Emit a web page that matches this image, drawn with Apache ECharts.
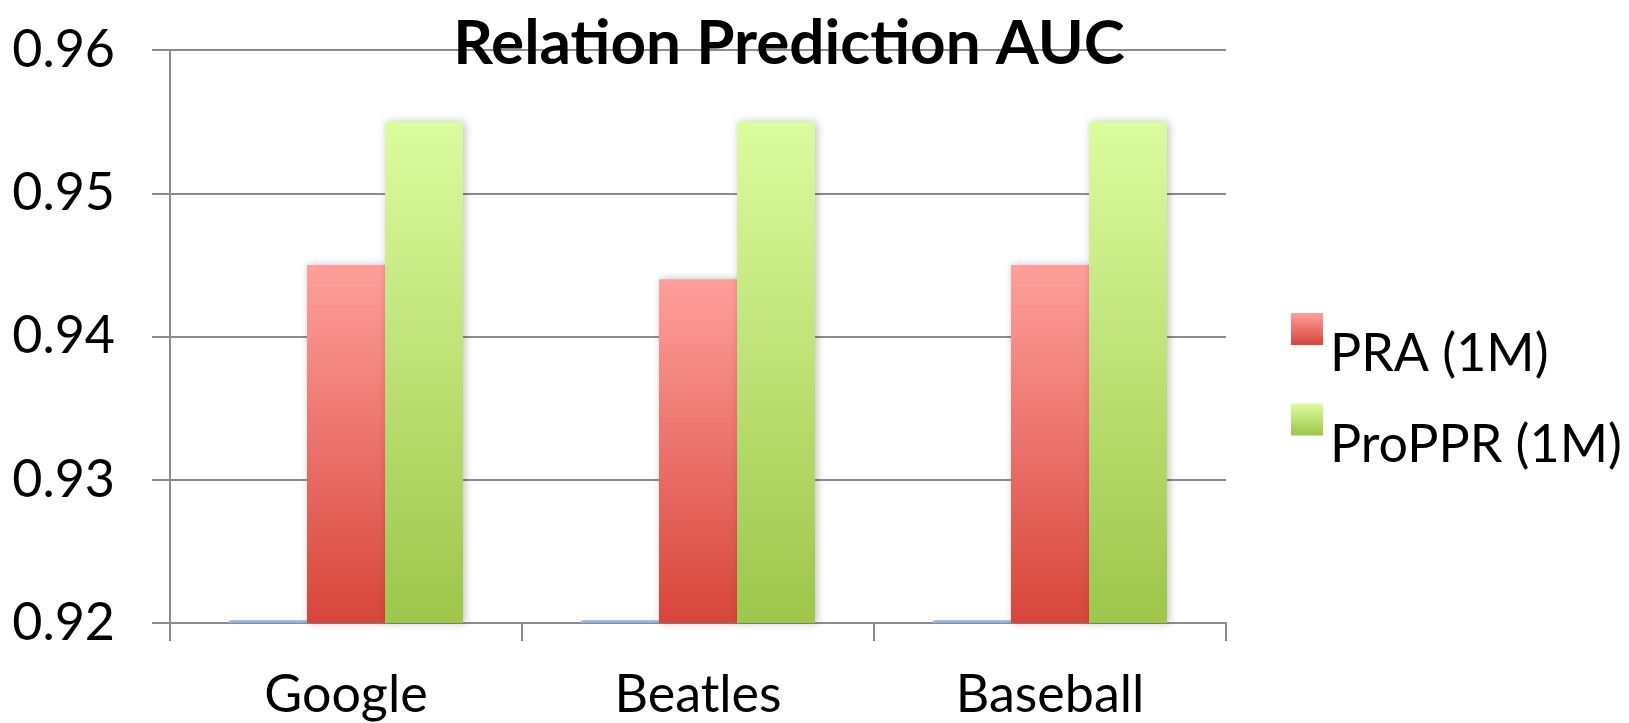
<!DOCTYPE html>
<html>
<head>
<meta charset="utf-8">
<script src="https://cdn.jsdelivr.net/npm/echarts@6/dist/echarts.min.js"></script>
<style>
  html, body { margin: 0; padding: 0; background: #fff; }
  #chart { width: 1629px; height: 723px; }
</style>
</head>
<body>
<div id="chart"></div>
<script>
// data
const categories = ['Google', 'Beatles', 'Baseball']
const baseline = [0.9202, 0.9202, 0.9202]     // blue series, barely above the axis
const praValues = [0.945, 0.944, 0.945]
const proPPRValues = [0.955, 0.955, 0.955]
const seriesNames = ['PRA (1M)', 'ProPPR (1M)']

const font = 'Lato'

const grad = (top, bottom) => new echarts.graphic.LinearGradient(0, 0, 0, 1, [
  { offset: 0, color: top },
  { offset: 1, color: bottom }
])

const barShadow = {
  shadowBlur: 8,
  shadowColor: 'rgba(0,0,0,0.25)',
  shadowOffsetX: 2
}

var myChart = echarts.init(document.getElementById('chart'))

var option = {
  animation: false,
  title: {
    text: 'Relation Prediction AUC',
    left: 784,
    textAlign: 'center',
    top: 8,
    textStyle: { fontFamily: font, fontWeight: 'bold', fontSize: 62, color: '#000' }
  },
  legend: {
    data: seriesNames,
    orient: 'vertical',
    icon: 'rect',
    left: 1286,
    top: 308,
    itemWidth: 32,
    itemHeight: 32,
    itemGap: 23,
    // the text sits lower than the swatch, as in the original
    formatter: name => '{s| }{t|' + name + '}',
    textStyle: {
      rich: {
        s: { height: 103, width: 1, fontSize: 10 },
        t: { fontFamily: font, fontSize: 52, color: '#000', verticalAlign: 'bottom', padding: [0, 0, 0, 1] }
      }
    }
  },
  grid: { left: 170, right: 403, top: 50, bottom: 100 },
  xAxis: {
    type: 'category',
    data: categories,
    axisLine: { lineStyle: { color: '#8c8c8c', width: 2 } },
    axisTick: { show: true, length: 18, lineStyle: { color: '#8c8c8c', width: 2 } },
    axisLabel: { fontFamily: font, fontSize: 52, color: '#000', margin: 46 }
  },
  yAxis: {
    type: 'value',
    min: 0.92,
    max: 0.96,
    interval: 0.01,
    axisLine: { show: true, lineStyle: { color: '#8c8c8c', width: 2 } },
    axisTick: { show: true, length: 18, lineStyle: { color: '#8c8c8c', width: 2 } },
    splitLine: { lineStyle: { color: '#8c8c8c', width: 2 } },
    axisLabel: {
      fontFamily: font, fontSize: 52, color: '#000', margin: 55,
      formatter: v => v.toFixed(2)
    }
  },
  series: [
    {
      name: 'base',
      type: 'bar',
      data: baseline,
      barWidth: 78,
      barGap: '0%',
      itemStyle: { color: '#8db3e2' },
      z: 1
    },
    {
      name: seriesNames[0],
      type: 'bar',
      data: praValues,
      barWidth: 78,
      barGap: '0%',
      itemStyle: Object.assign({ color: grad('#ff9f9b', '#d7453a') }, barShadow)
    },
    {
      name: seriesNames[1],
      type: 'bar',
      data: proPPRValues,
      barWidth: 78,
      barGap: '0%',
      itemStyle: Object.assign({ color: grad('#dbfc9f', '#9dc64a') }, barShadow)
    }
  ]
}

myChart.setOption(option)
</script>
</body>
</html>
